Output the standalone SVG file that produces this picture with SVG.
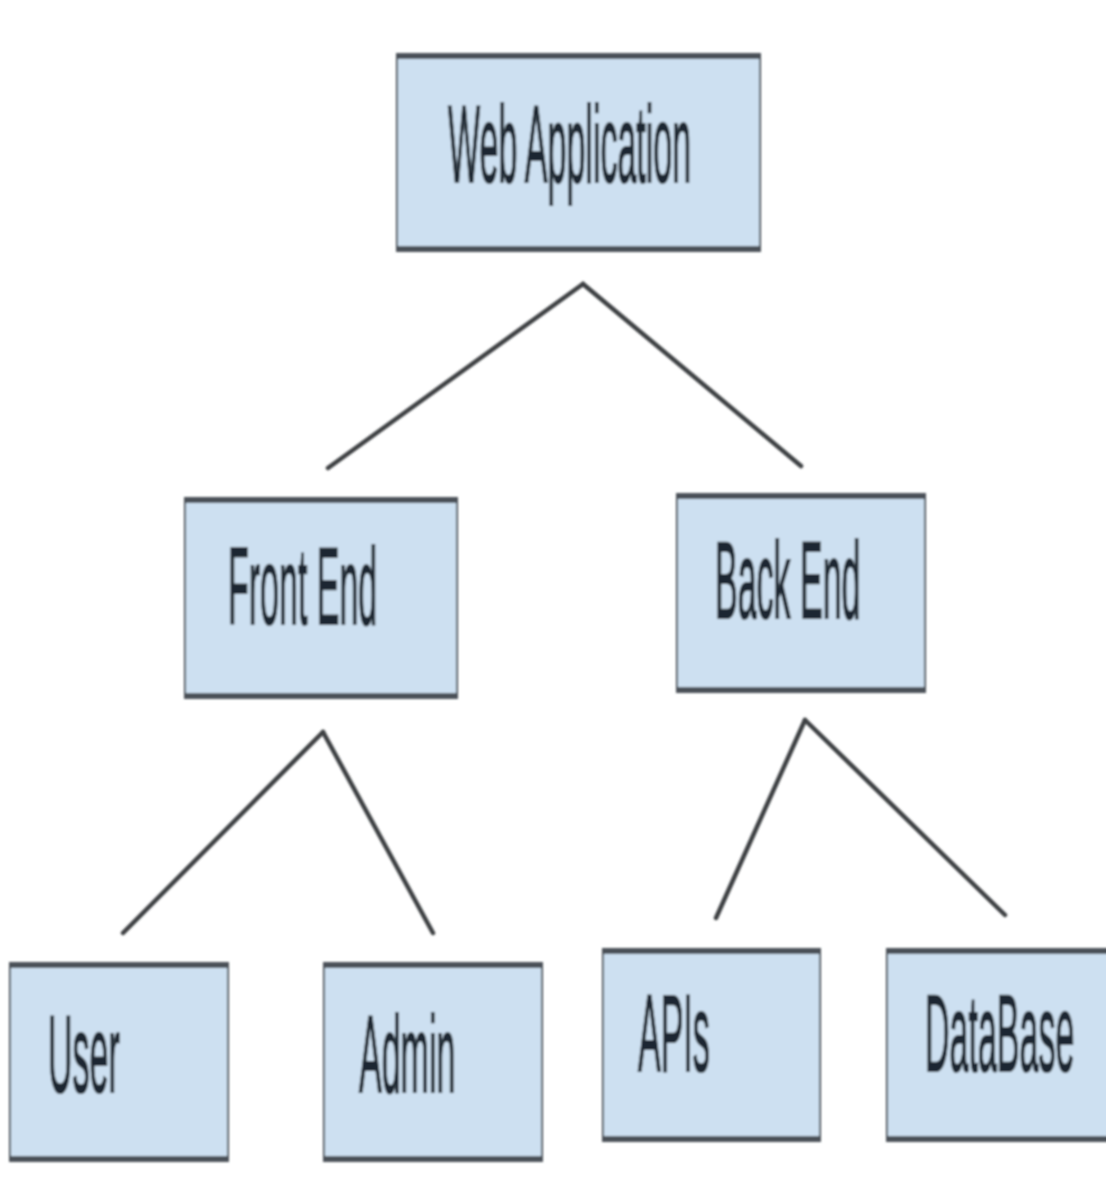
<svg xmlns="http://www.w3.org/2000/svg" width="1106" height="1203" viewBox="0 0 1106 1203">
  <defs>
    <style>
      .box { fill: #cde0f1; stroke: #4a525a; stroke-width: 2; }
      .edge { stroke: #4b5158; stroke-width: 6; }
      .label { font-family: "Liberation Sans", Arial, sans-serif; font-size: 34px; fill: #1f2830; stroke: #1f2830; stroke-width: 0.7; }
      .link { stroke: #3c3f42; stroke-width: 4.5; stroke-linecap: round; fill: none; }
    </style>
    <filter id="soft" x="-5%" y="-5%" width="110%" height="110%">
      <feGaussianBlur stdDeviation="0.9"/>
    </filter>
  </defs>
  <rect width="1106" height="1203" fill="#ffffff"/>

  <g id="connectors" filter="url(#soft)">
    <line class="link" x1="583" y1="284" x2="328" y2="468"/>
    <line class="link" x1="583" y1="284" x2="801" y2="466"/>
    <line class="link" x1="323" y1="732" x2="123" y2="933"/>
    <line class="link" x1="323" y1="732" x2="433" y2="933"/>
    <line class="link" x1="805" y1="720" x2="716" y2="918"/>
    <line class="link" x1="805" y1="720" x2="1005" y2="915"/>
  </g>

  <!-- labels use a narrow face stretched tall: font-size 34, vertical scale 3.2 -->
  <g id="node-web-application" filter="url(#soft)">
    <rect class="box" x="397" y="56" width="363" height="194"/>
    <line class="edge" x1="396" y1="56" x2="761" y2="56"/>
    <line class="edge" x1="396" y1="249" x2="761" y2="249"/>
    <text class="label" transform="translate(448 182) scale(1 3.2)">Web Application</text>
  </g>

  <g id="node-front-end" filter="url(#soft)">
    <rect class="box" x="185" y="500" width="272" height="196"/>
    <line class="edge" x1="184" y1="500" x2="458" y2="500"/>
    <line class="edge" x1="184" y1="696" x2="458" y2="696"/>
    <text class="label" transform="translate(228 624) scale(1 3.2)">Front End</text>
  </g>

  <g id="node-back-end" filter="url(#soft)">
    <rect class="box" x="677" y="496" width="248" height="194"/>
    <line class="edge" x1="676" y1="496" x2="926" y2="496"/>
    <line class="edge" x1="676" y1="690" x2="926" y2="690"/>
    <text class="label" transform="translate(715 618) scale(1 3.2)">Back End</text>
  </g>

  <g id="node-user" filter="url(#soft)">
    <rect class="box" x="10" y="965" width="218" height="194"/>
    <line class="edge" x1="9" y1="965" x2="229" y2="965"/>
    <line class="edge" x1="9" y1="1159" x2="229" y2="1159"/>
    <text class="label" transform="translate(48 1092) scale(1 3.2)">User</text>
  </g>

  <g id="node-admin" filter="url(#soft)">
    <rect class="box" x="324" y="965" width="218" height="194"/>
    <line class="edge" x1="323" y1="965" x2="543" y2="965"/>
    <line class="edge" x1="323" y1="1159" x2="543" y2="1159"/>
    <text class="label" transform="translate(359 1092) scale(1 3.2)">Admin</text>
  </g>

  <g id="node-apis" filter="url(#soft)">
    <rect class="box" x="603" y="951" width="217" height="188"/>
    <line class="edge" x1="602" y1="951" x2="821" y2="951"/>
    <line class="edge" x1="602" y1="1139" x2="821" y2="1139"/>
    <text class="label" transform="translate(638 1071) scale(1 3.2)">APIs</text>
  </g>

  <g id="node-database" filter="url(#soft)">
    <rect class="box" x="887" y="951" width="230" height="188"/>
    <line class="edge" x1="886" y1="951" x2="1110" y2="951"/>
    <line class="edge" x1="886" y1="1139" x2="1110" y2="1139"/>
    <text class="label" transform="translate(925 1071) scale(1 3.2)">DataBase</text>
  </g>
</svg>
